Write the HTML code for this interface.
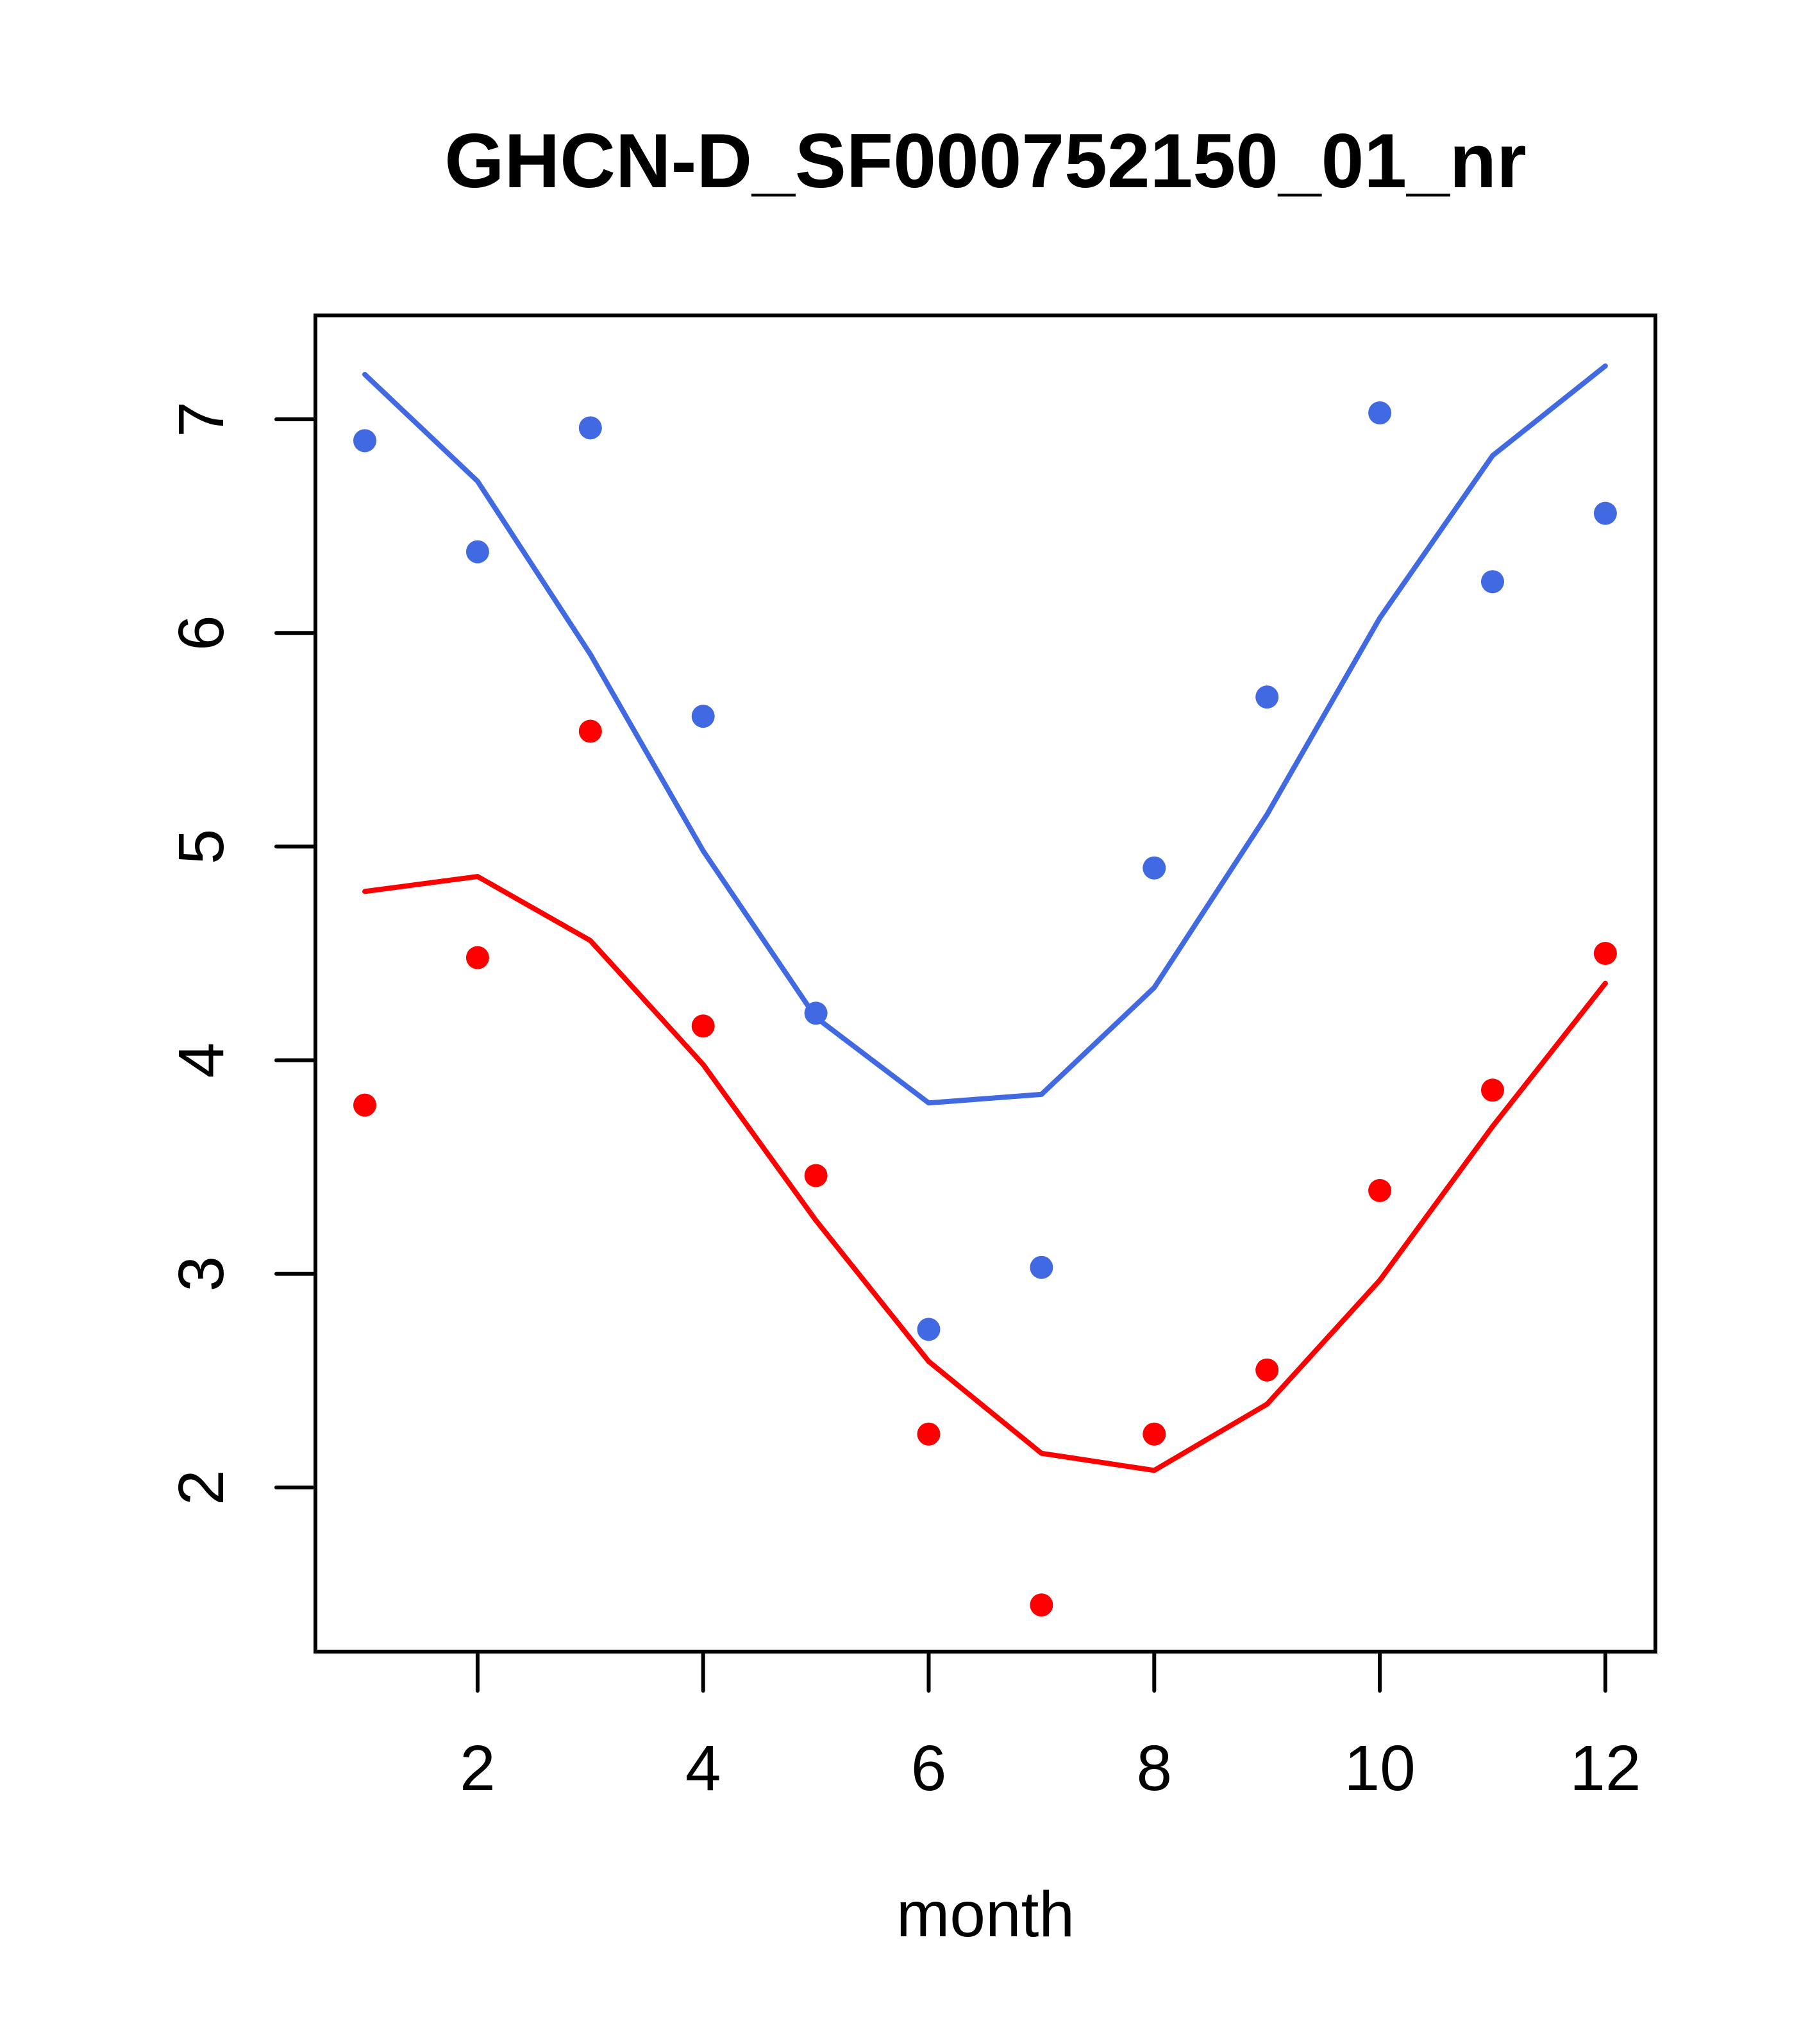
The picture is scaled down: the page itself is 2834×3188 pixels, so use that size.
<!DOCTYPE html>
<html><head><meta charset="utf-8"><style>body{margin:0;background:#fff}svg{display:block}</style></head>
<body>
<svg id="chart" width="2834" height="3188" xmlns="http://www.w3.org/2000/svg" font-family="Liberation Sans, sans-serif">
<rect width="2834" height="3188" fill="#fff"/>
<text x="1537" y="292" font-size="120" font-weight="bold" text-anchor="middle">GHCN-D_SF000752150_01_nr</text>
<rect x="492" y="492" width="2090" height="2084" fill="none" stroke="#000" stroke-width="6"/>
<text x="1537" y="3020" font-size="100" text-anchor="middle">month</text>
<g id="axes"></g>
<g id="series"></g>
</svg>
<script>
const months = [1,2,3,4,5,6,7,8,9,10,11,12];
const bluePoints = [6.9,6.38,6.96,5.61,4.22,2.74,3.03,4.9,5.7,7.03,6.24,6.56];
const blueLine = [7.21,6.71,5.9,4.98,4.2,3.8,3.84,4.34,5.15,6.07,6.83,7.25];
const redPoints = [3.79,4.48,5.54,4.16,3.46,2.25,1.45,2.25,2.55,3.39,3.86,4.5];
const redLine = [4.79,4.86,4.56,3.98,3.25,2.59,2.16,2.08,2.39,2.97,3.69,4.36];
const xTicks = [2,4,6,8,10,12];
const yTicks = [2,3,4,5,6,7];

const NS = 'http://www.w3.org/2000/svg';
function X(m){ return 569 + (m-1)*175.9; }
function Y(v){ return 654 + (7-v)*333.2; }
function mk(tag, attrs, parent){ const e=document.createElementNS(NS,tag); for(const k in attrs) e.setAttribute(k,attrs[k]); parent.appendChild(e); return e; }
const axes=document.getElementById('axes'), series=document.getElementById('series');

xTicks.forEach(t=>{
  const l=mk('line',{x1:X(t),x2:X(t),y1:2576,y2:2637,stroke:'#000','stroke-width':6,'stroke-linecap':'round'},axes);
  
  
  const tx=mk('text',{x:X(t),y:2792,'font-size':100,'text-anchor':'middle'},axes);
  tx.textContent=t;
  
  
});
yTicks.forEach(t=>{
  const l=mk('line',{x1:431,x2:492,y1:Y(t),y2:Y(t),stroke:'#000','stroke-width':6,'stroke-linecap':'round'},axes);
  
  
  const tx=mk('text',{x:0,y:0,'font-size':100,'text-anchor':'middle',transform:`translate(348,${Y(t)}) rotate(-90)`},axes);
  tx.textContent=t;
  
  
});
function line(vals,color,name){
  const p=mk('polyline',{points:vals.map((v,i)=>X(months[i])+','+Y(v)).join(' '),fill:'none',stroke:color,'stroke-width':8,'stroke-linecap':'round','stroke-linejoin':'round'},series);
  
  
}
function pts(vals,color,name){
  vals.forEach((v,i)=>{
    const c=mk('circle',{cx:X(months[i]),cy:Y(v),r:18,fill:color},series);
    
    
  });
}
line(blueLine,'#4169E1','blue-fit-line');
line(redLine,'#FF0000','red-fit-line');
pts(bluePoints,'#4169E1','blue-point');
pts(redPoints,'#FF0000','red-point');
</script>
</body></html>
